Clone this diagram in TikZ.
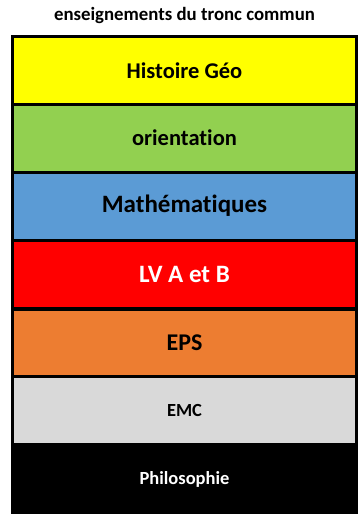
\documentclass[tikz,border=0pt]{standalone}
\usepackage{fontspec}
\setmainfont{Carlito}[Ligatures=NoCommon]
\usepackage{tikz}
\usetikzlibrary{positioning}

\definecolor{cyellow}{HTML}{FFFF00}
\definecolor{cgreen}{HTML}{92D050}
\definecolor{cblue}{HTML}{5B9BD5}
\definecolor{cred}{HTML}{FF0000}
\definecolor{corange}{HTML}{ED7D31}
\definecolor{cgrey}{HTML}{D9D9D9}

\begin{document}
\begin{tikzpicture}[x=1pt,y=1pt,
						boxnode/.style={rectangle, draw=black, line width=3pt, minimum width=344pt, minimum height=68pt, inner sep=0pt, font=\bfseries},
						]
						\useasboundingbox (0,0) rectangle (358,-514);
						%Nodes
						\node[font=\bfseries\fontsize{18.8}{20}\selectfont]         (label) 	at	(184.5,-15.5) 		{enseignements du tronc commun};
						\node[boxnode, fill=cyellow, font=\bfseries\fontsize{22.5}{24}\selectfont]    (n1) 	at 	(184.5,-70.25)          {Histoire Géo};
						\node[boxnode, fill=cgreen, font=\bfseries\fontsize{22.5}{24}\selectfont]     (n2) 	at 	(184.5,-138)            {orientation};
						\node[boxnode, fill=cblue, font=\bfseries\fontsize{25}{27}\selectfont]        (n3) 	at 	(184.5,-206)            {Mathématiques};
						\node[boxnode, fill=cred, text=white, font=\bfseries\fontsize{25}{27}\selectfont] (n4) at (184.5,-274.5)   {LV A et B};
						\node[boxnode, fill=corange, font=\bfseries\fontsize{24}{26}\selectfont]      (n5) 	at 	(184.5,-343)            {EPS};
						\node[boxnode, fill=cgrey, font=\bfseries\fontsize{18.5}{20}\selectfont]      (n6) 	at 	(184.5,-410.75)         {EMC};
						\node[boxnode, fill=black, text=white, font=\bfseries\fontsize{18.5}{20}\selectfont] (n7) at (184.5,-479) {Philosophie};
\end{tikzpicture}
\end{document}
